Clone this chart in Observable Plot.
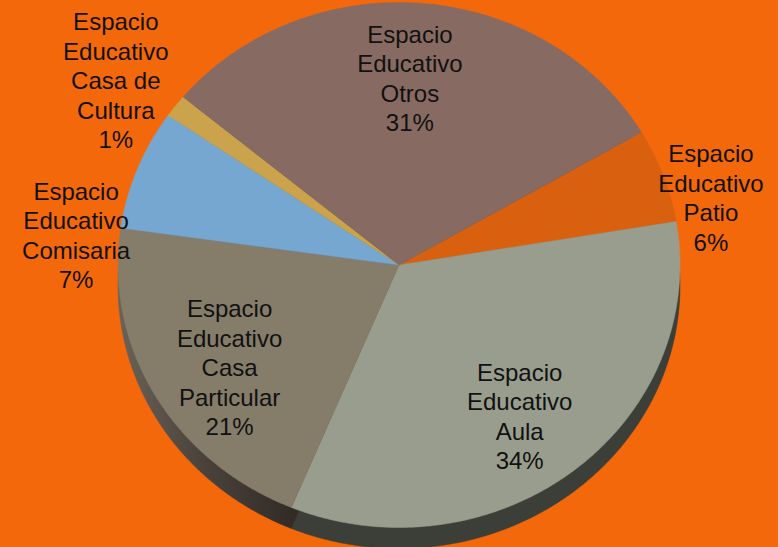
<!DOCTYPE html>
<html>
<head>
<meta charset="utf-8">
<script src="https://cdn.jsdelivr.net/npm/d3@7"></script>
<script src="https://cdn.jsdelivr.net/npm/@observablehq/plot@0.6"></script>
<style>
  html, body { margin: 0; padding: 0; background: #F4680C; overflow: hidden; }
  #chart svg { display: block; }
</style>
</head>
<body>
<div id="chart"></div>
<script>
// ---- data ----
const categories = ["Patio", "Aula", "Casa\nParticular", "Comisaria", "Casa de\nCultura", "Otros"];
const values = [5.8, 33.9, 21.0, 7.4, 1.4, 30.5];   // percent shares
const topColors = ["#D9600F", "#999D8E", "#857C6A", "#76A7D0", "#CBA34C", "#876B62"];
const sideColors = ["#8a3c08", "#3C3F37", "url(#cpSide)", "#3f5a70", "#6e5828", "#4a3a35"];

// ---- layout ----
const W = 778, H = 547;
const startAngle = -30.4;         // degrees, screen coords (clockwise)
const depth = 0.08;               // side thickness in y units
// label placement: radial factor and angle shift (degrees) from mid angle
const labelLayout = {
  "Patio":          {r: 1.14,  shift: 6.8},
  "Comisaria":      {r: 1.155, shift: -15.7},
  "Casa de\nCultura": {r: 1.23, shift: -2.3},
  "Aula":           {r: 0.717, shift: 1.7},
  "Casa\nParticular": {r: 0.717, shift: -3.1},
  "Otros":          {r: 0.715, shift: -1.6}
};

const total = d3.sum(values);
const rad = d => d * Math.PI / 180;
let a = startAngle;
const slices = categories.map((c, i) => {
  const span = values[i] / total * 360;
  const s = {name: c, value: values[i], a0: a, a1: a + span, i};
  a += span;
  return s;
});

function sector(s, dy) {
  const pts = [{x: 0, y: dy}];
  const n = Math.max(2, Math.ceil((s.a1 - s.a0) / 0.5));
  for (let k = 0; k <= n; k++) {
    const t = rad(s.a0 + (s.a1 - s.a0) * k / n);
    pts.push({x: Math.cos(t), y: Math.sin(t) + dy});
  }
  pts.push({x: 0, y: dy});
  return pts;
}

const sideMarks = slices.map(s =>
  Plot.line(sector(s, depth), {x: "x", y: "y", fill: sideColors[s.i], stroke: sideColors[s.i], strokeWidth: 0.5, curve: "linear"})
);
const topMarks = slices.map(s =>
  Plot.line(sector(s, 0), {x: "x", y: "y", fill: topColors[s.i], stroke: topColors[s.i], strokeWidth: 0.5, curve: "linear"})
);

const labels = slices.map(s => {
  const L = labelLayout[s.name];
  const mid = rad((s.a0 + s.a1) / 2 + L.shift);
  return {
    x: L.r * Math.cos(mid),
    y: L.r * Math.sin(mid),
    text: "Espacio\nEducativo\n" + s.name + "\n" + Math.round(s.value / total * 100) + "%"
  };
});

const chart = Plot.plot({
  width: W,
  height: H,
  margin: 0,
  style: {background: "#F4680C", fontFamily: "Liberation Sans, Arial, sans-serif"},
  x: {domain: [-1, 1], range: [117.5, 679.5], axis: null},
  y: {domain: [-1, 1], range: [2, 527], axis: null},
  marks: [
    ...sideMarks,
    ...topMarks,
    Plot.text(labels, {
      x: "x", y: "y", text: "text",
      fontSize: 24, lineHeight: 1.23, fill: "#111",
      textAnchor: "middle", lineAnchor: "middle"
    })
  ]
});

// gradient for the dark side under "Casa Particular"
const ns = "http://www.w3.org/2000/svg";
const defs = document.createElementNS(ns, "defs");
defs.innerHTML = `<linearGradient id="cpSide" x1="0" x2="1" y1="0" y2="0">
  <stop offset="0" stop-color="#6b6257"/>
  <stop offset="0.3" stop-color="#4b433b"/>
  <stop offset="0.62" stop-color="#322c27"/>
  <stop offset="1" stop-color="#322c27"/>
</linearGradient>`;
chart.insertBefore(defs, chart.firstChild);

document.getElementById("chart").appendChild(chart);
</script>
</body>
</html>
